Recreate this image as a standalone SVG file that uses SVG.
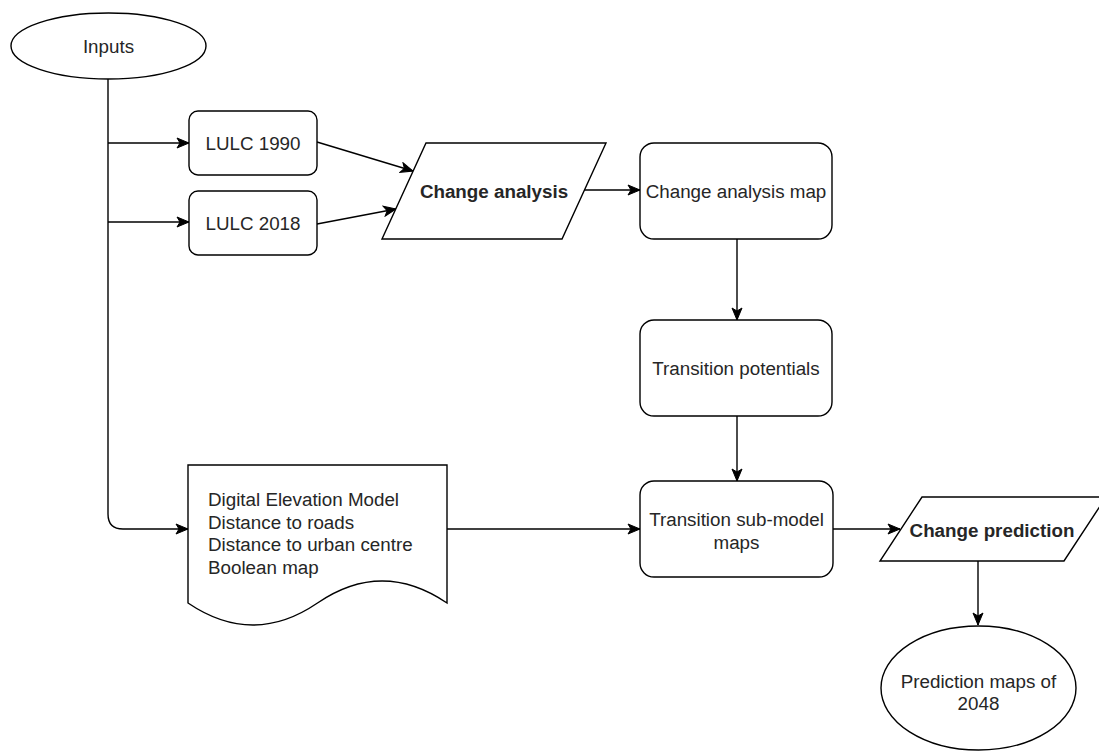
<svg xmlns="http://www.w3.org/2000/svg" width="1099" height="751" viewBox="0 0 1099 751">
<style>
.s{fill:#fff;stroke:#000;stroke-width:1.4}
.c{fill:none;stroke:#000;stroke-width:1.4}
.t{font-family:"Liberation Sans",Arial,sans-serif;font-size:18.8px;fill:#262626}
.m{text-anchor:middle}
.b{font-weight:bold}
</style>
<defs>
<marker id="ah" markerUnits="userSpaceOnUse" markerWidth="14" markerHeight="12" refX="13" refY="6" orient="auto">
<path d="M1,1 L13,6 L1,11 L4,6 Z" fill="#000" stroke="#000" stroke-width="1"/>
</marker>
</defs>
<rect width="1099" height="751" fill="#fff"/>
<g id="connectors">
<path class="c" d="M108,79 V514 Q108,529 123,529 H188" marker-end="url(#ah)"/>
<path class="c" d="M108,143 H189" marker-end="url(#ah)"/>
<path class="c" d="M108,222 H189" marker-end="url(#ah)"/>
<path class="c" d="M317,142 L413,171" marker-end="url(#ah)"/>
<path class="c" d="M317,224 L396,209" marker-end="url(#ah)"/>
<path class="c" d="M584,190 H640" marker-end="url(#ah)"/>
<path class="c" d="M737,239 V320" marker-end="url(#ah)"/>
<path class="c" d="M737,416 V481" marker-end="url(#ah)"/>
<path class="c" d="M447,529 H640" marker-end="url(#ah)"/>
<path class="c" d="M833,529 H900" marker-end="url(#ah)"/>
<path class="c" d="M978,561 V625" marker-end="url(#ah)"/>
</g>
<g id="inputs">
<ellipse class="s" cx="108.5" cy="46" rx="97.5" ry="33"/>
<text class="t m" x="108.5" y="53">Inputs</text>
</g>
<g id="lulc1990">
<rect class="s" x="189" y="111" width="128" height="64" rx="9"/>
<text class="t m" x="253" y="149.5">LULC 1990</text>
</g>
<g id="lulc2018">
<rect class="s" x="189" y="191" width="128" height="64" rx="9"/>
<text class="t m" x="253" y="229.5">LULC 2018</text>
</g>
<g id="change-analysis">
<polygon class="s" points="426,143 606,143 562,239 382,239"/>
<text class="t m b" x="494" y="198">Change analysis</text>
</g>
<g id="change-analysis-map">
<rect class="s" x="640" y="143" width="192" height="96" rx="14"/>
<text class="t m" x="736" y="197.5">Change analysis map</text>
</g>
<g id="transition-potentials">
<rect class="s" x="640" y="320" width="192" height="96" rx="14"/>
<text class="t m" x="736" y="374.5">Transition potentials</text>
</g>
<g id="documents">
<path class="s" d="M188,465 H447 V603 Q382,559 317.5,603 Q253,647 188,603 Z"/>
<text class="t" x="208" y="506">Digital Elevation Model</text>
<text class="t" x="208" y="528.5">Distance to roads</text>
<text class="t" x="208" y="551">Distance to urban centre</text>
<text class="t" x="208" y="573.5">Boolean map</text>
</g>
<g id="transition-sub-model-maps">
<rect class="s" x="640" y="481" width="193" height="96" rx="14"/>
<text class="t m" x="736.5" y="526">Transition sub-model</text>
<text class="t m" x="736.5" y="548.5">maps</text>
</g>
<g id="change-prediction">
<polygon class="s" points="922,497 1106,497 1064,561 880,561"/>
<text class="t m b" x="992" y="536.5">Change prediction</text>
</g>
<g id="prediction-maps">
<ellipse class="s" cx="978.5" cy="688" rx="97.5" ry="62"/>
<text class="t m" x="978.5" y="687.5">Prediction maps of</text>
<text class="t m" x="978.5" y="709.5">2048</text>
</g>
</svg>
